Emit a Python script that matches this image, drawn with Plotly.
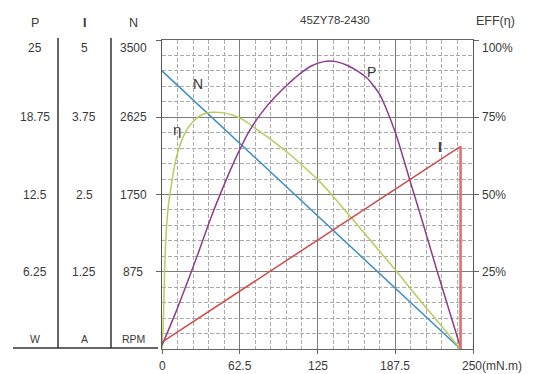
import plotly.graph_objects as go

# ---------------- data ----------------
torque_line = [0, 240]            # mN.m
speed_rpm = [3150, 0]             # N (RPM)
current_a = [0.11, 3.28]          # I (A)
stall_torque = 240
stall_current = 3.28

torque_p = [0, 10, 20, 30, 40, 50, 60, 70, 80, 90, 100, 110, 120, 130, 135, 140, 150,
            160, 165, 170, 175, 180, 188, 200, 210, 220, 230, 240]
power_w = [0.3, 2.7, 5.3, 8.0, 10.8, 13.3, 15.6, 17.6, 19.1, 20.3, 21.3, 22.2, 22.9, 23.25,
           23.3, 23.25, 22.9, 22.3, 21.9, 21.3, 20.6, 19.5, 17.4, 13.4, 10.1, 6.7, 3.4, 0.1]

torque_eff = [0, 1, 2, 3, 5, 7.5, 10, 14, 19, 25, 32, 40, 48, 56, 65, 75, 85, 95, 105, 115,
              125, 135, 150, 170, 190, 210, 225, 240]
eff_pct = [0, 8, 24, 35, 46, 53, 59, 65.5, 70.3, 73.6, 75.8, 76.6, 76.5, 75.8, 74.2, 71.4,
           68.6, 65.5, 62.2, 58.6, 54.9, 50.6, 43.5, 34.0, 24.4, 14.5, 7.3, 0]

x_ticks = [0, 62.5, 125, 187.5, 250]
x_tick_text = ["0", "62.5", "125", "187.5", "250(mN.m)"]
p_ticks = [25, 18.75, 12.5, 6.25]
p_tick_text = ["25", "18.75", "12.5", "6.25"]
i_ticks = [5, 3.75, 2.5, 1.25]
i_tick_text = ["5", "3.75", "2.5", "1.25"]
n_ticks = [3500, 2625, 1750, 875]
n_tick_text = ["3500", "2625", "1750", "875"]
eff_ticks = [100, 75, 50, 25]
eff_tick_text = ["100%", "75%", "50%", "25%"]

title_text = "45ZY78-2430"

# ---------------- styling ----------------
FONT = "Liberation Sans, Arial, sans-serif"
TXT = "#3a3a3a"
C_N = "#3d8fc2"
C_I = "#cf4b4b"
C_P = "#8e3d8c"
C_E = "#b8cc5c"

W, H = 536, 374
L, R, T, B = 162, 63, 40, 25
PW = W - L - R
PH = H - T - B


def px_x(px):
    return (px - L) / PW


def px_y(py):
    return (H - B - py) / PH


def label(x, y, text, xref="paper", yref="paper", size=12, xanchor="center", **kw):
    d = dict(x=x, y=y, xref=xref, yref=yref, text=text, showarrow=False,
             xanchor=xanchor, yanchor="middle",
             font=dict(size=size, color=TXT, family=FONT))
    d.update(kw)
    return d


fig = go.Figure()

fig.add_trace(go.Scatter(x=torque_line, y=speed_rpm, mode="lines",
                         line=dict(color=C_N, width=1.5), yaxis="y", hoverinfo="skip"))
fig.add_trace(go.Scatter(x=torque_eff, y=eff_pct, mode="lines",
                         line=dict(color=C_E, width=1.5, shape="spline", smoothing=0.8),
                         yaxis="y2", hoverinfo="skip"))
fig.add_trace(go.Scatter(x=torque_p, y=power_w, mode="lines",
                         line=dict(color=C_P, width=1.5, shape="spline", smoothing=0.8),
                         yaxis="y3", hoverinfo="skip"))
fig.add_trace(go.Scatter(x=torque_line, y=current_a, mode="lines",
                         line=dict(color=C_I, width=1.5), yaxis="y4", hoverinfo="skip"))
fig.add_trace(go.Scatter(x=[stall_torque, stall_torque], y=[stall_current, 0], mode="lines",
                         line=dict(color="#e07070", width=2.6), yaxis="y4", hoverinfo="skip"))

ann = []
cols = [(35, "P", p_ticks, p_tick_text, "y3", "W"),
        (84, "<b>I</b>", i_ticks, i_tick_text, "y4", "A"),
        (133, "N", n_ticks, n_tick_text, "y", "RPM")]
for cx, head, vals, texts, yref, unit in cols:
    ann.append(label(px_x(cx), px_y(23), head, size=12.5))
    for k, (v, t) in enumerate(zip(vals, texts)):
        ann.append(label(px_x(cx), v, t, yref=yref, yshift=-8 if k == 0 else 0))
    ann.append(label(px_x(cx), px_y(339), unit, size=10.5))

for k, (v, t) in enumerate(zip(eff_ticks, eff_tick_text)):
    ann.append(label(px_x(480), v, t, yref="y2", xanchor="left",
                     yshift=-8 if k == 0 else 0))
ann.append(label(px_x(495), px_y(21), "EFF(η)", size=12.5))
ann.append(label(px_x(335), px_y(20), title_text, size=11.5))

for v, t in zip(x_ticks, x_tick_text):
    if v == 250:
        ann.append(label(v, px_y(366), t, xref="x", xanchor="left", xshift=-13))
    else:
        ann.append(label(v, px_y(366), t, xref="x"))

ann.append(label(28.9, 2997, "N", xref="x", yref="y", size=14))
ann.append(label(12, 2488, "η", xref="x", yref="y", size=15))
ann.append(label(168.8, 3132, "P", xref="x", yref="y", size=14))
ann.append(label(223.5, 2284, "<b>I</b>", xref="x", yref="y", size=14))

shapes = [
    dict(type="line", xref="paper", yref="paper", x0=px_x(58), x1=px_x(58),
         y0=px_y(38), y1=px_y(348), line=dict(color="#333", width=1.5)),
    dict(type="line", xref="paper", yref="paper", x0=px_x(111), x1=px_x(111),
         y0=px_y(38), y1=px_y(348), line=dict(color="#333", width=1.5)),
    dict(type="line", xref="paper", yref="paper", x0=px_x(13), x1=px_x(158),
         y0=px_y(348), y1=px_y(348), line=dict(color="#333", width=1.5)),
]

fig.update_layout(
    width=W, height=H,
    margin=dict(l=L, r=R, t=T, b=B, pad=0),
    paper_bgcolor="white", plot_bgcolor="white",
    showlegend=False,
    annotations=ann, shapes=shapes,
    xaxis=dict(range=[0, 250], tickvals=x_ticks, showticklabels=False,
               ticks="outside", ticklen=4, tickcolor="#666",
               showgrid=True, gridcolor="#7c7c7c", gridwidth=1.2,
               minor=dict(dtick=12.5, tick0=0, showgrid=True, gridcolor="#ababab",
                          griddash="4px,2px", gridwidth=1),
               showline=True, linecolor="#666", linewidth=1, mirror=True, zeroline=False),
    yaxis=dict(range=[0, 3500], tickvals=n_ticks, showticklabels=False,
               ticks="outside", ticklen=5, tickcolor="#666",
               showgrid=True, gridcolor="#7c7c7c", gridwidth=1.2,
               minor=dict(dtick=175, tick0=0, showgrid=True, gridcolor="#ababab",
                          griddash="4px,2px", gridwidth=1),
               showline=True, linecolor="#555", linewidth=1.2, mirror=True, zeroline=False),
    yaxis2=dict(range=[0, 100], overlaying="y", side="right", tickvals=eff_ticks,
                showticklabels=False, ticks="outside", ticklen=5, tickcolor="#666",
                showgrid=False, zeroline=False, showline=False),
    yaxis3=dict(range=[0, 25], overlaying="y", visible=False),
    yaxis4=dict(range=[0, 5], overlaying="y", visible=False),
)

fig.write_html("out.html", config={"displayModeBar": False},
               post_script="document.body.style.margin='0';")
